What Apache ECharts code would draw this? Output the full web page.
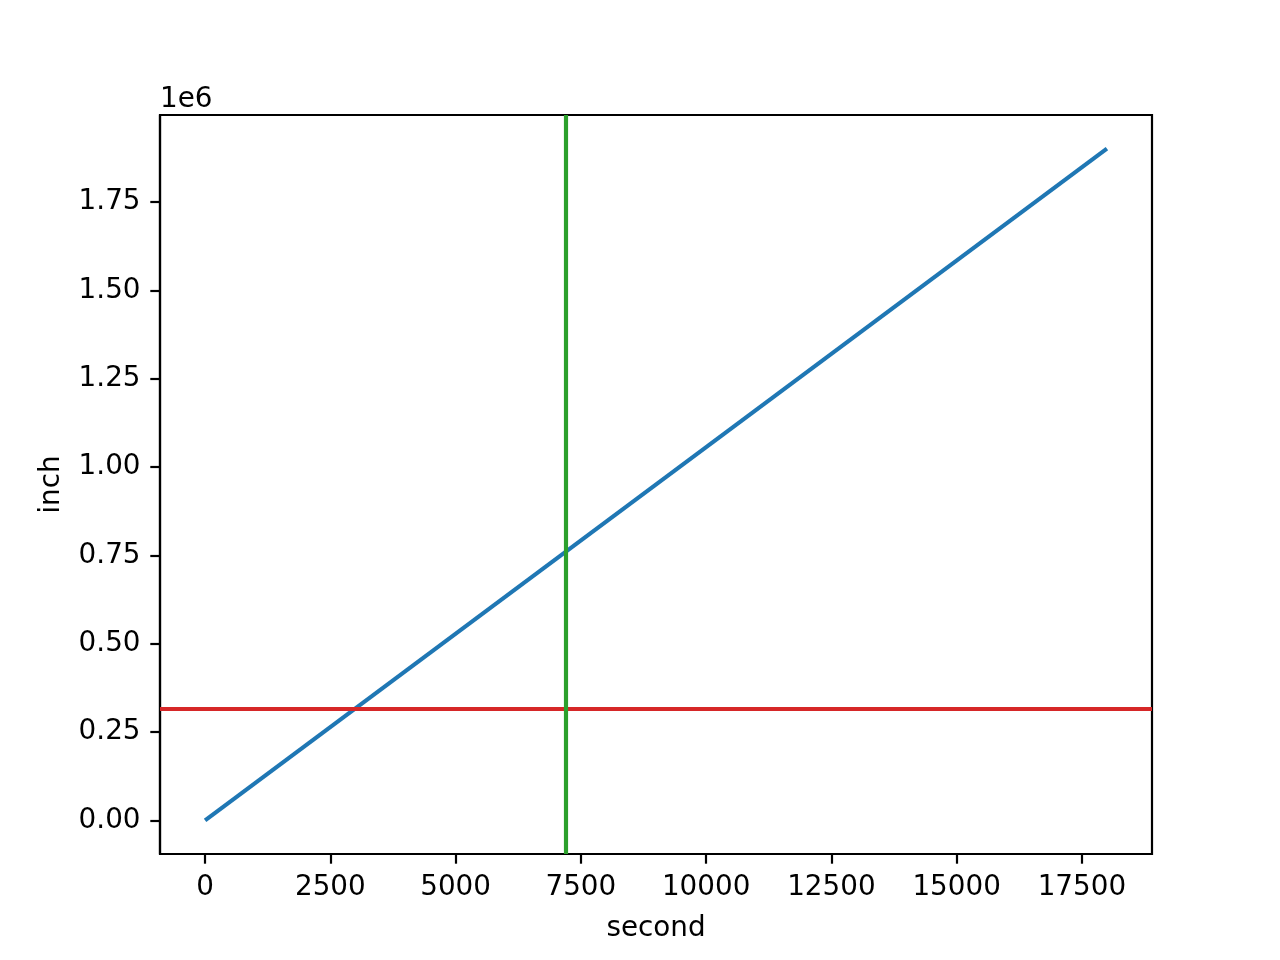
<!DOCTYPE html>
<html>
<head>
<meta charset="utf-8">
<script src="https://cdn.jsdelivr.net/npm/echarts@6/dist/echarts.min.js"></script>
<style>
html,body{margin:0;padding:0;background:#fff;}
#chart{width:1280px;height:960px;}
</style>
</head>
<body>
<div id="chart"></div>
<script>
// Data
const timeSeconds = [0, 18000];
const distanceInch = [0, 1901000];
const horizontalLineInch = 316000;
const verticalLineSecond = 7200;
const xTicks = [0, 2500, 5000, 7500, 10000, 12500, 15000, 17500];
const yTicks = [0, 250000, 500000, 750000, 1000000, 1250000, 1500000, 1750000];
const xAxisTitle = 'second';
const yAxisTitle = 'inch';
const yOffsetText = '1e6';

const FONT = 'DejaVu Sans';
const FS = 27.8;
const AXW = 2.2;
const LW = 4.17;

const chart = echarts.init(document.getElementById('chart'), null, {renderer: 'canvas'});
const lineData = timeSeconds.map((t, i) => [t, distanceInch[i]]);

const xSpan = timeSeconds[timeSeconds.length - 1] - timeSeconds[0];
const ySpan = distanceInch[distanceInch.length - 1] - distanceInch[0];

const option = {
  animation: false,
  backgroundColor: '#ffffff',
  grid: {
    left: 160, right: 128, top: 115, bottom: 106,
    show: true, borderColor: '#000', borderWidth: AXW, backgroundColor: 'transparent'
  },
  xAxis: {
    type: 'value',
    min: timeSeconds[0] - 0.05 * xSpan,
    max: timeSeconds[timeSeconds.length - 1] + 0.05 * xSpan,
    name: xAxisTitle,
    nameLocation: 'middle',
    nameGap: 61,
    nameTextStyle: {fontFamily: FONT, fontSize: FS, color: '#000'},
    axisLine: {show: true, onZero: false, lineStyle: {color: '#000', width: AXW}},
    axisTick: {show: true, inside: false, length: 9.7, lineStyle: {color: '#000', width: AXW}, customValues: xTicks},
    axisLabel: {show: true, margin: 19.5, fontFamily: FONT, fontSize: FS, color: '#000', customValues: xTicks,
      formatter: v => String(v)},
    splitLine: {show: false}
  },
  yAxis: {
    type: 'value',
    min: distanceInch[0] - 0.05 * ySpan,
    max: distanceInch[distanceInch.length - 1] + 0.05 * ySpan,
    name: yAxisTitle,
    nameLocation: 'middle',
    nameGap: 94,
    nameTextStyle: {fontFamily: FONT, fontSize: FS, color: '#000', padding: [0, 0, 0, 0]},
    axisLine: {show: true, onZero: false, lineStyle: {color: '#000', width: AXW}},
    axisTick: {show: true, inside: false, length: 9.7, lineStyle: {color: '#000', width: AXW}, customValues: yTicks},
    axisLabel: {show: true, margin: 19.5, fontFamily: FONT, fontSize: FS, color: '#000', customValues: yTicks,
      formatter: v => (v / 1e6).toFixed(2)},
    splitLine: {show: false}
  },
  graphic: [{
    type: 'text', left: 160, top: 86,
    style: {text: yOffsetText, font: FS + 'px "' + FONT + '"', fill: '#000'}
  }],
  series: [{
    type: 'line',
    data: lineData,
    showSymbol: false,
    symbol: 'none',
    lineStyle: {color: '#1f77b4', width: LW},
    z: 2,
    silent: true,
    markLine: {
      silent: true,
      symbol: ['none', 'none'],
      label: {show: false},
      animation: false,
      z: 3,
      data: [
        {yAxis: horizontalLineInch, lineStyle: {color: '#d62728', width: LW, type: 'solid'}},
        {xAxis: verticalLineSecond, lineStyle: {color: '#2ca02c', width: LW, type: 'solid'}}
      ]
    }
  }]
};
chart.setOption(option);
</script>
</body>
</html>
